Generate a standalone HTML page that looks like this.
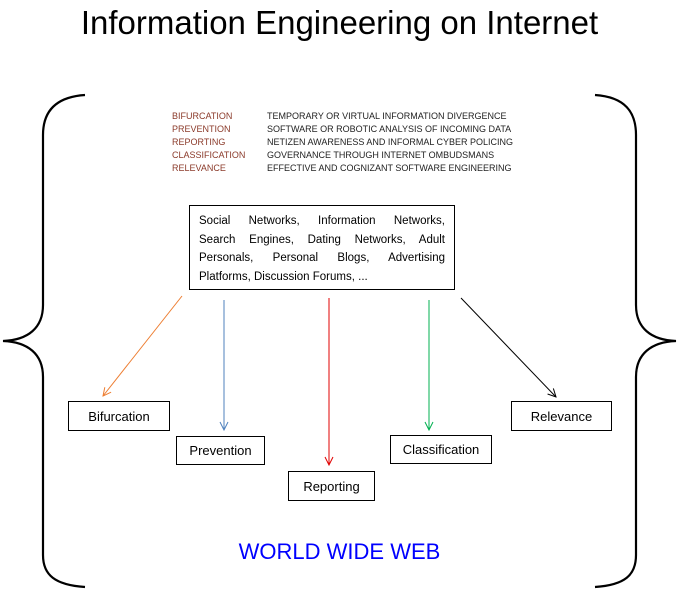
<!DOCTYPE html>
<html><head><meta charset="utf-8"><style>
body{margin:0;width:679px;height:600px;background:#fff;overflow:hidden;position:relative;font-family:"Liberation Sans",sans-serif}
.t{position:absolute;white-space:nowrap}
.box{position:absolute;border:1px solid #000;box-sizing:border-box;font-size:13px;display:flex;align-items:center;justify-content:center;background:#fff}
.l{position:absolute;font-size:9px;color:#8b3a2a;left:172px}
.d{position:absolute;font-size:9px;color:#222;left:267px}
.j{text-align:justify;text-align-last:justify;white-space:nowrap;height:18.5px}
</style></head><body>
<svg width="679" height="600" style="position:absolute;left:0;top:0">
<defs>
<marker id="m" markerWidth="10" markerHeight="10" refX="9" refY="5" orient="auto" markerUnits="userSpaceOnUse"><path d="M1,1 L9,5 L1,9" fill="none" stroke="context-stroke" stroke-width="1"/></marker>
</defs>
<g fill="none" stroke="#000" stroke-width="2.2">
<path d="M85,95 C55,97 43,112 43,135 L43,305 C43,328 28,340 3,341 C28,342 43,354 43,377 L43,555 C43,575 55,585 85,587"/>
<path d="M595,95 C625,97 636,112 636,135 L636,305 C636,328 651,340 676,341 C651,342 636,354 636,377 L636,555 C636,575 625,585 595,587"/>
</g>
<g stroke-width="1" fill="none">
<line x1="182" y1="296" x2="103" y2="396" stroke="#ed7d31" marker-end="url(#m)"/>
<line x1="224" y1="300" x2="224" y2="430" stroke="#4f81bd" marker-end="url(#m)"/>
<line x1="329" y1="298" x2="329" y2="465" stroke="#e00000" marker-end="url(#m)"/>
<line x1="429" y1="300" x2="429" y2="430" stroke="#00b050" marker-end="url(#m)"/>
<line x1="461" y1="298" x2="556" y2="397" stroke="#000" marker-end="url(#m)"/>
</g>
</svg>
<div class="t" style="left:0;width:679px;text-align:center;top:4px;font-size:33px">Information Engineering on Internet</div>
<div class="l" style="top:111px">BIFURCATION</div><div class="d" style="top:111px">TEMPORARY OR VIRTUAL INFORMATION DIVERGENCE</div>
<div class="l" style="top:124px">PREVENTION</div><div class="d" style="top:124px">SOFTWARE OR ROBOTIC ANALYSIS OF INCOMING DATA</div>
<div class="l" style="top:137px">REPORTING</div><div class="d" style="top:137px">NETIZEN AWARENESS AND INFORMAL CYBER POLICING</div>
<div class="l" style="top:150px">CLASSIFICATION</div><div class="d" style="top:150px">GOVERNANCE THROUGH INTERNET OMBUDSMANS</div>
<div class="l" style="top:163px">RELEVANCE</div><div class="d" style="top:163px">EFFECTIVE AND COGNIZANT SOFTWARE ENGINEERING</div>
<div style="position:absolute;left:189px;top:205px;width:266px;height:85px;border:1px solid #000;box-sizing:border-box;padding:6px 9px 0 9px;font-size:11.5px;line-height:18.5px">
<div class="j">Social Networks, Information Networks,</div>
<div class="j">Search Engines, Dating Networks, Adult</div>
<div class="j">Personals, Personal Blogs, Advertising</div>
<div style="white-space:nowrap">Platforms, Discussion Forums, ...</div>
</div>
<div class="box" style="left:68px;top:401px;width:102px;height:30px">Bifurcation</div>
<div class="box" style="left:176px;top:436px;width:89px;height:29px">Prevention</div>
<div class="box" style="left:288px;top:471px;width:87px;height:30px">Reporting</div>
<div class="box" style="left:390px;top:435px;width:102px;height:29px">Classification</div>
<div class="box" style="left:511px;top:401px;width:101px;height:30px">Relevance</div>
<div class="t" style="left:0;width:679px;text-align:center;top:539px;font-size:22px;color:#0000ff">WORLD WIDE WEB</div>
</body></html>
